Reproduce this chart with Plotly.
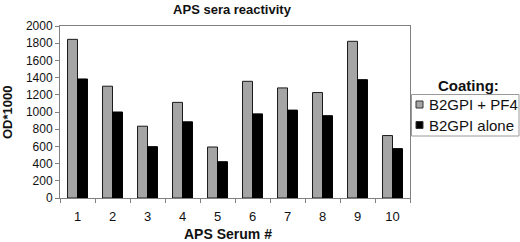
import plotly.graph_objects as go

categories = ["1", "2", "3", "4", "5", "6", "7", "8", "9", "10"]
b2gpi_pf4 = [1845, 1300, 835, 1112, 593, 1357, 1280, 1226, 1822, 726]
b2gpi_alone = [1384, 1000, 597, 886, 422, 978, 1022, 957, 1376, 574]
y_ticks = [0, 200, 400, 600, 800, 1000, 1200, 1400, 1600, 1800, 2000]
series_names = ["B2GPI + PF4", "B2GPI alone"]
series_colors = ["#a5a5a5", "#000000"]

FONT = "Arial, Liberation Sans, sans-serif"
W, H = 520, 242
ML, MR, MT, MB = 60, 110, 26, 44
PW, PH = W - ML - MR, H - MT - MB


def px(x):
    return (x - ML) / PW


def py(y):
    return (H - MB - y) / PH


fig = go.Figure()
fig.add_trace(go.Bar(x=categories, y=b2gpi_pf4, name=series_names[0], showlegend=False,
                     marker=dict(color=series_colors[0], line=dict(color="#1a1a1a", width=1))))
fig.add_trace(go.Bar(x=categories, y=b2gpi_alone, name=series_names[1], showlegend=False,
                     marker=dict(color=series_colors[1], line=dict(color="#000000", width=1))))

fig.update_layout(
    width=W, height=H,
    margin=dict(l=ML, r=MR, t=MT, b=MB, autoexpand=False),
    paper_bgcolor="white", plot_bgcolor="white",
    barmode="group", bargap=0.43, bargroupgap=0,
    font=dict(family=FONT, size=12, color="#111111"),
    title=dict(text="<b>APS sera reactivity</b>", x=232 / W, xanchor="center",
               y=1 - 9 / H, yanchor="middle", font=dict(size=13, family=FONT, color="#111111")),
    showlegend=False,
)

# legend (drawn manually, positioned in paper coordinates)
shapes = [dict(type="rect", xref="paper", yref="paper",
               x0=px(411.5), x1=px(519), y0=py(136), y1=py(94.5),
               line=dict(color="#9a9a9a", width=1), fillcolor="white", layer="above")]
annotations = [dict(text="<b>Coating:</b>", xref="paper", yref="paper",
                    x=px(468.5), y=py(85), xanchor="center", yanchor="middle",
                    showarrow=False, font=dict(size=15, family=FONT, color="#111111"))]
item_y = [104.5, 125]
for name, color, yc in zip(series_names, series_colors, item_y):
    shapes.append(dict(type="rect", xref="paper", yref="paper",
                       x0=px(416), x1=px(423), y0=py(yc + 3.5), y1=py(yc - 3.5),
                       line=dict(color="#333333", width=1), fillcolor=color, layer="above"))
    annotations.append(dict(text=name, xref="paper", yref="paper",
                            x=px(427), y=py(yc), xanchor="left", yanchor="middle",
                            showarrow=False, font=dict(size=15, family=FONT, color="#111111")))

# axis titles
annotations.append(dict(text="<b>APS Serum #</b>", xref="paper", yref="paper",
                        x=px(228), y=py(234), xanchor="center", yanchor="middle",
                        showarrow=False, font=dict(size=14, family=FONT, color="#111111")))
annotations.append(dict(text="<b>OD*1000</b>", xref="paper", yref="paper", textangle=-90,
                        x=px(7), y=py(112), xanchor="center", yanchor="middle",
                        showarrow=False, font=dict(size=13, family=FONT, color="#111111")))
fig.update_layout(shapes=shapes, annotations=annotations)

fig.update_xaxes(
    type="category", tickson="boundaries", ticks="outside", ticklen=4, tickcolor="#808080",
    showline=True, linecolor="#808080", linewidth=1, mirror=True,
    showgrid=False, tickfont=dict(size=13), ticklabelstandoff=6,
)
fig.update_yaxes(
    range=[0, 2000], tickvals=y_ticks, ticks="outside", ticklen=4, tickcolor="#808080",
    showline=True, linecolor="#808080", linewidth=1, mirror=True,
    showgrid=False, zeroline=False, tickfont=dict(size=12),
)

fig.write_html("out.html", config={"displayModeBar": False},
               post_script="document.body.style.margin='0';document.body.style.padding='0';")
